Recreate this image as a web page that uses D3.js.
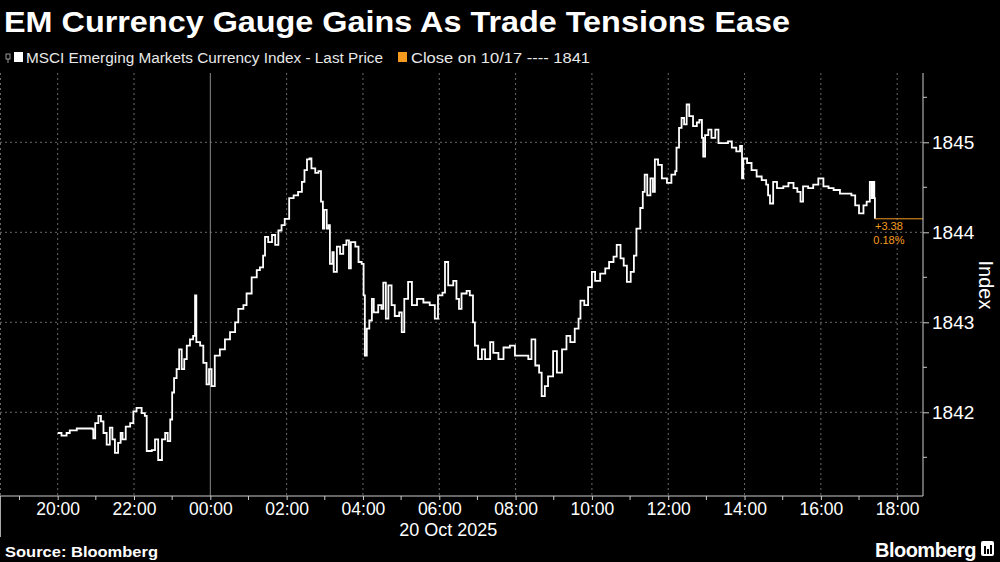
<!DOCTYPE html>
<html><head><meta charset="utf-8">
<script src="https://cdn.jsdelivr.net/npm/d3@7"></script>
<style>
html,body{margin:0;padding:0;background:#000;}
svg{display:block;}
text{font-family:"Liberation Sans","Arial",sans-serif;}
</style></head>
<body>
<svg id="c" width="1000" height="562"></svg>
<script>
// minutes relative to 20 Oct 2025 00:00 (negative = 19 Oct)
const minutes = [-240,-234,-226,-221,-210,-200,-189,-185,-184,-181,-176,-172,-168,-163,-158,-154,-150,-145,-141,-138,-133,-126,-121,-116,-108,-103,-100,-92,-87,-82,-76,-71,-67,-63,-60,-57,-53,-49,-45,-41,-37,-32,-27,-24,-22,-16,-11,-6,-2,2,7,15,23,31,39,44,52,57,65,73,78,83,86,91,97,102,107,112,117,121,124,131,138,144,148,152,156,159,165,170,174,177,179,183,186,188,192,194,199,204,209,214,218,221,228,233,238,241,243,246,250,254,257,264,269,272,276,280,285,290,297,301,305,311,317,325,335,345,353,358,365,369,374,382,387,391,395,403,408,413,416,421,427,432,440,445,453,461,471,479,490,500,505,511,517,521,526,531,539,545,553,560,566,573,579,582,588,594,600,605,613,621,627,634,639,645,650,655,661,666,670,676,680,683,687,692,696,699,704,710,718,725,731,733,737,741,745,749,753,759,765,769,773,775,778,783,788,794,799,807,814,820,827,833,836,838,844,851,859,867,874,877,880,885,891,901,909,917,923,928,932,940,948,956,964,972,980,990,1001,1008,1014,1020,1027,1032,1037,1040,1042,1044,1045];
const values = [1841.77,1841.74,1841.77,1841.80,1841.82,1841.82,1841.82,1841.81,1841.71,1841.88,1841.96,1841.90,1841.77,1841.64,1841.83,1841.70,1841.55,1841.66,1841.77,1841.70,1841.84,1841.88,1842.01,1842.05,1841.99,1841.96,1841.57,1841.58,1841.70,1841.47,1841.70,1841.77,1841.68,1841.92,1842.22,1842.38,1842.48,1842.70,1842.48,1842.59,1842.74,1842.81,1842.85,1843.30,1842.78,1842.74,1842.55,1842.31,1842.48,1842.29,1842.63,1842.70,1842.81,1842.89,1843.00,1843.15,1843.19,1843.32,1843.50,1843.58,1843.61,1843.74,1843.95,1843.89,1843.97,1843.86,1844.02,1844.08,1844.15,1844.15,1844.38,1844.41,1844.45,1844.56,1844.69,1844.81,1844.82,1844.71,1844.66,1844.68,1844.34,1844.04,1844.25,1844.04,1844.08,1843.65,1843.78,1843.56,1843.84,1843.76,1843.86,1843.91,1843.60,1843.89,1843.84,1843.67,1843.65,1843.30,1842.63,1842.93,1843.02,1843.26,1843.11,1843.19,1843.15,1843.44,1843.04,1843.41,1843.19,1843.07,1843.11,1842.89,1843.26,1843.45,1843.19,1843.26,1843.22,1843.19,1843.04,1843.30,1843.33,1843.67,1843.41,1843.46,1843.26,1843.15,1843.32,1843.35,1843.30,1843.00,1842.74,1842.59,1842.70,1842.59,1842.78,1842.66,1842.59,1842.72,1842.74,1842.63,1842.63,1842.59,1842.81,1842.52,1842.44,1842.18,1842.29,1842.40,1842.68,1842.44,1842.70,1842.85,1842.78,1842.93,1843.04,1843.24,1843.19,1843.39,1843.56,1843.46,1843.54,1843.60,1843.67,1843.73,1843.86,1843.71,1843.63,1843.45,1843.56,1843.74,1844.04,1844.27,1844.45,1844.64,1844.41,1844.60,1844.45,1844.81,1844.75,1844.60,1844.55,1844.64,1844.68,1844.94,1845.16,1845.27,1845.20,1845.42,1845.29,1845.18,1845.22,1845.25,1845.05,1844.84,1845.08,1845.14,1845.05,1845.14,1844.99,1844.99,1845.01,1844.94,1844.90,1844.96,1844.60,1844.82,1844.77,1844.69,1844.62,1844.58,1844.53,1844.41,1844.32,1844.56,1844.49,1844.51,1844.55,1844.49,1844.45,1844.34,1844.51,1844.49,1844.53,1844.60,1844.51,1844.49,1844.47,1844.43,1844.43,1844.41,1844.30,1844.21,1844.30,1844.34,1844.56,1844.38,1844.56,1844.38,1844.15];
const yTicks = [1842, 1843, 1844, 1845];
const yMinorTicks = [1841.5, 1842.5, 1843.5, 1844.5, 1845.5];
const changeLabels = ["+3.38", "0.18%"];
const titleText = "EM Currency Gauge Gains As Trade Tensions Ease";
const legendSeries = "MSCI Emerging Markets Currency Index - Last Price";
const legendClose = "Close on 10/17 ---- 1841";
const dateLabel = "20 Oct 2025";
const sourceText = "Source: Bloomberg";

const svg = d3.select("#c");
const W = 1000, H = 562;
const plot = {left: 0, right: 923, top: 73, bottom: 496};
const ORANGE = "#f39a1f";
const GRID = "#6a6a6a";

svg.append("rect").attr("width", W).attr("height", H).attr("fill", "#000");

const base = new Date(2025, 9, 20, 0, 0);
const toDate = m => new Date(base.getTime() + m * 60000);
const data = minutes.map((m, i) => ({t: toDate(m), v: values[i]}));

const x = d3.scaleTime()
  .domain([toDate(-330.7), toDate(1120.6)])
  .range([plot.left, plot.right]);
const y = d3.scaleLinear()
  .domain([1841.07, 1845.77])
  .range([plot.bottom, plot.top]);

// title
svg.append("text").attr("x", 4).attr("y", 32)
  .attr("fill", "#fff").attr("font-size", 30).attr("font-weight", "bold")
  .attr("textLength", 786).attr("lengthAdjust", "spacingAndGlyphs")
  .text(titleText);

// legend
const lg = svg.append("g");
lg.append("rect").attr("x", 6).attr("y", 54).attr("width", 4).attr("height", 5).attr("fill", "none").attr("stroke", "#bbb").attr("stroke-width", 0.8);
lg.append("line").attr("x1", 8).attr("x2", 8).attr("y1", 59).attr("y2", 63).attr("stroke", "#bbb").attr("stroke-width", 0.8);
lg.append("rect").attr("x", 14).attr("y", 52).attr("width", 9).attr("height", 10).attr("fill", "#fff");
lg.append("text").attr("x", 26).attr("y", 63).attr("fill", "#e8e8e8").attr("font-size", 15.5)
  .attr("textLength", 357).attr("lengthAdjust", "spacingAndGlyphs").text(legendSeries);
lg.append("rect").attr("x", 398).attr("y", 52).attr("width", 9).attr("height", 10).attr("fill", ORANGE);
lg.append("text").attr("x", 411).attr("y", 63).attr("fill", "#e8e8e8").attr("font-size", 15.5)
  .attr("textLength", 179).attr("lengthAdjust", "spacingAndGlyphs").text(legendClose);

// grid
const g = svg.append("g");
g.selectAll("line.hg").data(yTicks).join("line")
  .attr("x1", plot.left).attr("x2", plot.right)
  .attr("y1", d => y(d)).attr("y2", d => y(d))
  .attr("stroke", GRID).attr("stroke-width", 1).attr("stroke-dasharray", "2,3");
const xMajor = x.ticks(d3.timeHour.every(2));
g.selectAll("line.vg").data(xMajor).join("line")
  .attr("x1", d => x(d)).attr("x2", d => x(d))
  .attr("y1", plot.top).attr("y2", plot.bottom)
  .attr("stroke", d => d.getHours() === 0 ? "#8a8a8a" : GRID)
  .attr("stroke-width", 1)
  .attr("stroke-dasharray", d => d.getHours() === 0 ? null : "2,3");
// left edge
g.append("line").attr("x1", 0.5).attr("x2", 0.5).attr("y1", plot.top).attr("y2", plot.bottom)
  .attr("stroke", GRID).attr("stroke-dasharray", "2,3");
g.append("line").attr("x1", 0.5).attr("x2", 0.5).attr("y1", plot.bottom).attr("y2", 537)
  .attr("stroke", "#aaa");

// line
const line = d3.line().x(d => x(d.t)).y(d => y(d.v)).curve(d3.curveStepAfter);
svg.append("path").datum(data).attr("d", line)
  .attr("fill", "none").attr("stroke", "#fff").attr("stroke-width", 1.8);

// last price marker
const last = data[data.length - 1];
svg.append("line").attr("x1", x(last.t)).attr("x2", plot.right)
  .attr("y1", y(last.v)).attr("y2", y(last.v))
  .attr("stroke", ORANGE).attr("stroke-width", 1);
svg.selectAll("text.chg").data(changeLabels).join("text")
  .attr("x", x(last.t) + 14).attr("y", (d, i) => y(last.v) + 11 + i * 14)
  .attr("text-anchor", "middle").attr("fill", ORANGE).attr("font-size", 11)
  .text(d => d);

// right axis
const yAxis = d3.axisRight(y).tickValues(yTicks).tickSize(6).tickPadding(3).tickFormat(d3.format("d"));
const ya = svg.append("g").attr("transform", `translate(${plot.right},0)`).call(yAxis);
ya.select(".domain").attr("stroke", "#ccc").attr("d", `M0,${plot.top}V${plot.bottom}`);
ya.selectAll(".tick line").attr("stroke", "#ccc");
ya.selectAll(".tick text").attr("fill", "#fff").attr("font-size", 19).attr("font-family", "Liberation Sans, Arial, sans-serif");
ya.selectAll("line.minor").data(yMinorTicks).join("line").attr("class", "minor")
  .attr("x1", 0).attr("x2", 4).attr("y1", d => y(d)).attr("y2", d => y(d)).attr("stroke", "#ccc");
svg.append("text").attr("transform", "translate(979,285) rotate(90)")
  .attr("text-anchor", "middle").attr("fill", "#fff").attr("font-size", 20).text("Index");

// bottom axis
const xAxis = d3.axisBottom(x).ticks(d3.timeHour.every(2)).tickFormat(d3.timeFormat("%H:%M")).tickSize(4).tickPadding(3);
const xa = svg.append("g").attr("transform", `translate(0,${plot.bottom})`).call(xAxis);
xa.select(".domain").attr("stroke", "#ccc").attr("d", `M${plot.left},0H${plot.right}`);
xa.selectAll(".tick line").attr("stroke", "#ccc");
xa.selectAll(".tick text").attr("fill", "#fff").attr("font-size", 17.5).attr("font-family", "Liberation Sans, Arial, sans-serif");
xa.selectAll("line.minor").data(x.ticks(d3.timeHour.every(1)).filter(d => d.getHours() % 2 === 1)).join("line")
  .attr("class", "minor").attr("x1", d => x(d)).attr("x2", d => x(d)).attr("y1", 0).attr("y2", 4).attr("stroke", "#ccc");
svg.append("text").attr("x", x(new Date(2025, 9, 20, 6, 0)) + 9).attr("y", 536)
  .attr("text-anchor", "middle").attr("fill", "#fff").attr("font-size", 18).text(dateLabel);

// footer
svg.append("text").attr("x", 5).attr("y", 557).attr("fill", "#fff").attr("font-size", 15).attr("font-weight", "bold")
  .attr("textLength", 153).attr("lengthAdjust", "spacingAndGlyphs").text(sourceText);
svg.append("text").attr("x", 976).attr("y", 557).attr("text-anchor", "end").attr("fill", "#fff").attr("font-size", 20).attr("font-weight", "bold").attr("letter-spacing", -0.5).text("Bloomberg");
const ic = svg.append("g").attr("transform", "translate(981,541)");
ic.append("rect").attr("width", 13).attr("height", 15).attr("rx", 2).attr("fill", "#fff");
[[3,8],[6,5],[9,9]].forEach(([bx,bh]) => ic.append("rect").attr("x", bx).attr("y", 13 - bh).attr("width", 2).attr("height", bh).attr("fill", "#000"));
</script>
</body></html>
